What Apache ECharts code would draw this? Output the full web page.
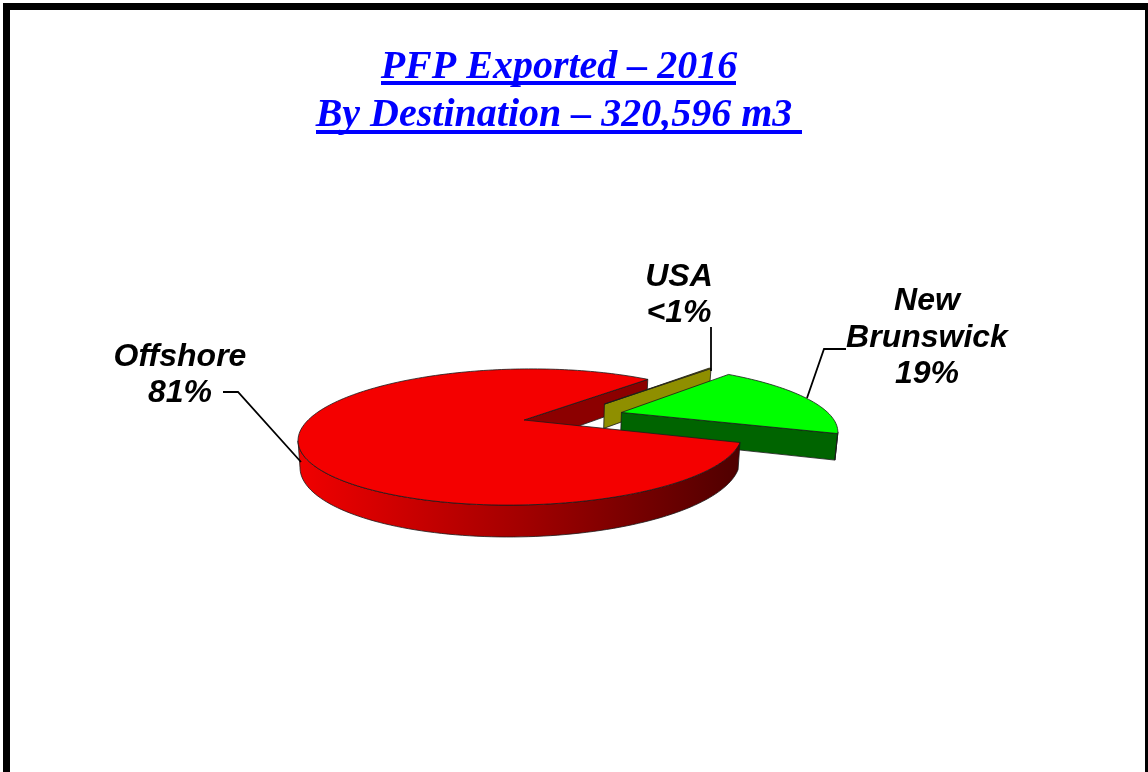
<!DOCTYPE html>
<html>
<head>
<meta charset="utf-8">
<style>html,body{margin:0;padding:0;background:#fff;overflow:hidden}#c{width:1148px;height:772px}</style>
<script src="https://cdn.jsdelivr.net/npm/echarts@6/dist/echarts.min.js"></script>
</head>
<body>
<div id="c"></div>
<script>
// Data
var categories = ['Offshore', 'USA', 'New\nBrunswick'];
var shareValues = [81, 0.2, 18.8];
var shareLabels = ['81%', '<1%', '19%'];
var titleLines = ['PFP Exported \u2013 2016', 'By Destination \u2013 320,596 m3 '];

// Look of each slice
var topColors = ['#f40000', '#999900', '#00ff00'];
var wallColors = ['#8c0000', '#8f8f00', '#006400'];
var explodeAmount = [0, 0.47, 0.479];
var explodeDirection = [null, 54.3, null];
var paintOrder = [4, 2, 3];
var START_ANGLE = 107.8;

// Projection of the pie plane: ellipse outline and where the pie's centre lands in it
var ELLIPSE = { cx: 520, cy: 437, rx: 222, ry: 68, tilt: -1 };
var HUB = { x: 524, y: 420 };
var DEPTH_BASE = 25.5, DEPTH_SLOPE = 1 / 340, WALL_INSET = 0.009;

function rad(d) { return d * Math.PI / 180; }
var ct = Math.cos(rad(ELLIPSE.tilt)), st = Math.sin(rad(ELLIPSE.tilt));
var hdx = HUB.x - ELLIPSE.cx, hdy = HUB.y - ELLIPSE.cy;
var hp = (hdx * ct + hdy * st) / ELLIPSE.rx, hq = (-hdx * st + hdy * ct) / ELLIPSE.ry;
var hr = Math.sqrt(hp * hp + hq * hq);
var ex = hp / hr, ey = hq / hr, fx = -ey, fy = ex;

function project(a, b) {
  var w = 1 + hr * a;
  var u = (a + hr) / w, v = b * Math.sqrt(1 - hr * hr) / w;
  var X = ELLIPSE.rx * (ex * u + fx * v), Y = ELLIPSE.ry * (ey * u + fy * v);
  return [ELLIPSE.cx + X * ct - Y * st, ELLIPSE.cy + X * st + Y * ct];
}
function down(pt) {
  var d = DEPTH_BASE * (1 + (pt[1] - HUB.y) * DEPTH_SLOPE);
  return [pt[0] - (pt[0] - ELLIPSE.cx) * WALL_INSET, pt[1] + d];
}

function sliceGeometry(i) {
  var total = shareValues.reduce(function (s, v) { return s + v; }, 0);
  var start = START_ANGLE;
  for (var k = 0; k < i; k++) start += shareValues[k] / total * 360;
  var span = shareValues[i] / total * 360, end = start + span;
  var dir = explodeDirection[i] === null ? (start + end) / 2 : explodeDirection[i];
  var oa = explodeAmount[i] * Math.cos(rad(dir)), ob = explodeAmount[i] * Math.sin(rad(dir));
  var hub = project(oa, ob), rim = [];
  var n = Math.max(4, Math.ceil(span / 1.5));
  for (var j = 0; j <= n; j++) {
    var t = rad(start + span * j / n);
    rim.push(project(oa + Math.cos(t), ob + Math.sin(t)));
  }
  return { hub: hub, rim: rim };
}

function edgeStyle(fill) { return { fill: fill, stroke: '#1a1a1a', lineWidth: 0.8, lineJoin: 'round' }; }

function renderSlice(params, api) {
  var i = params.dataIndex, g = sliceGeometry(i), children = [];
  var base = paintOrder[i] * 10;
  var rim = g.rim, last = rim[rim.length - 1];

  // Cut face that looks toward the viewer (the clockwise end of the slice)
  children.push({
    type: 'polygon', z2: i === 0 ? 5 : base,
    shape: { points: [g.hub, last, down(last), down(g.hub)] },
    style: edgeStyle(wallColors[i])
  });

  // Outer wall: only the stretch of rim that faces forward
  var front = [];
  for (var j = 1; j < rim.length; j++) {
    if (rim[j][0] < rim[j - 1][0]) {
      if (!front.length) front.push(rim[j - 1]);
      front.push(rim[j]);
    }
  }
  if (front.length > 1) {
    var wallFill = i === 0 ? {
      type: 'linear', x: 300, y: 0, x2: 737, y2: 0, global: true,
      colorStops: [
        { offset: 0, color: '#f00000' },
        { offset: 0.5, color: '#a40000' },
        { offset: 1, color: '#500000' }
      ]
    } : wallColors[i];
    children.push({
      type: 'polygon', z2: base + 1,
      shape: { points: front.concat(front.slice().reverse().map(down)) },
      style: edgeStyle(wallFill)
    });
  }
  // Top face
  children.push({
    type: 'polygon', z2: base + 2,
    shape: { points: [g.hub].concat(rim) },
    style: edgeStyle(topColors[i])
  });
  return { type: 'group', children: children };
}

// Label layout
var LABEL_FONT = 'italic bold 32px "Liberation Sans", Arial, sans-serif';
var labelPos = [[180, 375], [679, 295], [927, 338]];
var leaderPaths = [
  [[223, 392], [238, 392], [301, 462]],
  [[711, 327], [711, 371]],
  [[846, 349], [824, 349], [807, 398]]
];
var underlines = [[381, 81, 355], [316, 130, 486]];

var graphics = [{
  type: 'rect', silent: true, z: 20,
  shape: { x: 6.5, y: 6.5, width: 1142, height: 900 },
  style: { fill: 'none', stroke: '#000', lineWidth: 7 }
}];
underlines.forEach(function (u) {
  graphics.push({ type: 'rect', silent: true, shape: { x: u[0], y: u[1], width: u[2], height: 4 }, style: { fill: '#0000ff' } });
});
categories.forEach(function (c, i) {
  graphics.push({
    type: 'text', silent: true, x: labelPos[i][0], y: labelPos[i][1],
    style: { text: c + '\n' + shareLabels[i], font: LABEL_FONT, fill: '#000', align: 'center', verticalAlign: 'middle', lineHeight: 36.5 }
  });
  graphics.push({
    type: 'polyline', silent: true, z: 10, shape: { points: leaderPaths[i] },
    style: { fill: 'none', stroke: '#000', lineWidth: 1.8 }
  });
});

var chart = echarts.init(document.getElementById('c'), null, { renderer: 'canvas' });
chart.setOption({
  backgroundColor: '#fff',
  animation: false,
  title: titleLines.map(function (t, i) {
    return {
      text: t, left: 559, top: 45 + i * 48, textAlign: 'center', padding: 0,
      textStyle: { fontFamily: '"Liberation Serif", "Times New Roman", serif', fontStyle: 'italic', fontWeight: 'bold', fontSize: 40, color: '#0000ff', lineHeight: 46 }
    };
  }),
  graphic: graphics,
  series: [{
    type: 'custom',
    coordinateSystem: 'none',
    silent: true,
    renderItem: renderSlice,
    data: shareValues.map(function (v, i) { return { name: categories[i], value: v }; })
  }]
});
</script>
</body>
</html>
